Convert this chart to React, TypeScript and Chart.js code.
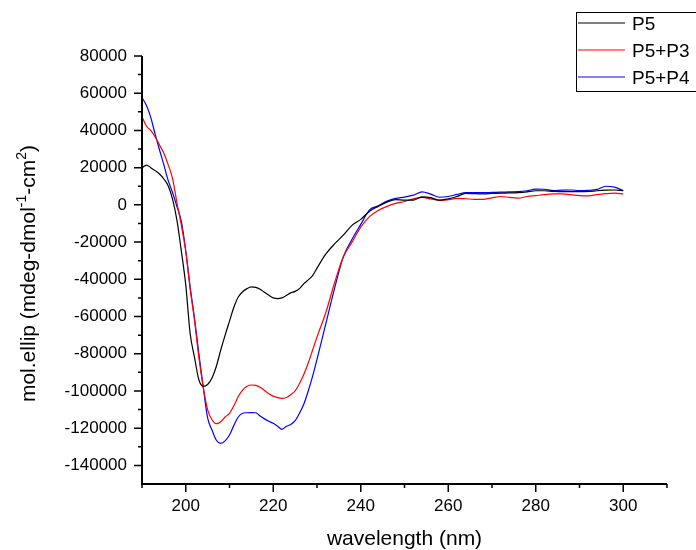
import { useEffect, useRef } from 'react';
import { Chart, registerables } from 'chart.js';
Chart.register(...registerables);

const wavelengths = [
  190, 191, 192, 193, 194, 195, 196, 197, 198, 199, 200, 201, 202, 203, 204, 205, 206, 207, 208, 209,
  210, 211, 212, 213, 214, 215, 216, 217, 218, 219, 220, 221, 222, 223, 224, 225, 226, 227, 228, 229, 230,
  232, 234, 236, 238, 240, 242, 244, 246, 248, 250, 252, 254, 256, 258, 260, 262, 264, 266, 268,
  270, 272, 274, 276, 278, 280, 282, 284, 286, 288, 290, 292, 294, 296, 298, 300,
];

const p5 = [
  19800, 21400, 20000, 18400, 16600, 13900, 10200, 3000, -8500, -25000, -43000, -69000, -82000, -94000, -97500, -96500, -93000, -86700, -78000, -70000,
  -62500, -55000, -49500, -46700, -45000, -44100, -44300, -45300, -47000, -48600, -50000, -50400, -50000, -48700, -47300, -46500, -45000, -42300, -40300, -38000, -34000,
  -26500, -21000, -16300, -11000, -7800, -3400, -800, 1500, 2800, 2600, 2600, 4300, 3900, 2500, 3300, 4500, 6200, 6000, 5900,
  6100, 6300, 6400, 6600, 7000, 7600, 7600, 7300, 7100, 7100, 7100, 7200, 7600, 7900, 8000, 7700,
];

const p5p3 = [
  47300, 42400, 40000, 36500, 32200, 27800, 21500, 14000, 1000, -11000, -25000, -45000, -62000, -82000, -98000, -110000, -115500, -117600, -116500, -114000,
  -112000, -108000, -103000, -99500, -97500, -96800, -97000, -98000, -99800, -101500, -102800, -103600, -104000, -103500, -102000, -100000, -96000, -91000, -85000, -78000, -71000,
  -58000, -42000, -28000, -20000, -12000, -6300, -3000, -800, 800, 1800, 3200, 4000, 3200, 2400, 2800, 3500, 3300, 3000, 3000,
  3800, 4500, 4000, 3600, 4500, 5000, 5500, 5900, 5900, 5500, 5000, 4800, 5500, 6000, 6300, 5900,
];

const p5p4 = [
  57700, 53500, 47000, 38000, 29500, 21500, 13000, 6500, -1000, -9000, -24500, -44000, -61000, -80000, -98000, -114500, -121000, -126500, -128200, -126800,
  -123700, -118500, -114000, -112000, -111700, -111600, -111700, -113500, -115000, -116300, -117400, -119000, -120600, -119000, -118000, -116000, -112000, -107000, -100000, -92000, -83000,
  -64000, -45000, -28000, -18500, -10500, -2700, -500, 2000, 3500, 4200, 5200, 7000, 5800, 4100, 4500, 5600, 6600, 6600, 6600,
  6700, 6800, 7000, 7100, 7600, 8500, 8400, 7700, 7900, 8000, 7700, 7800, 8300, 10000, 9500, 7700,
];

const seriesNames = ['P5', 'P5+P3', 'P5+P4'];
const seriesColors = ['#000000', '#ff0000', '#0000ff'];

const xMajorTicks = [200, 220, 240, 260, 280, 300];
const xMinorTicks = [190, 210, 230, 250, 270, 290, 310];
const yMajorTicks = [-140000, -120000, -100000, -80000, -60000, -40000, -20000, 0, 20000, 40000, 60000, 80000];
const yMinorTicks = [-130000, -110000, -90000, -70000, -50000, -30000, -10000, 10000, 30000, 50000, 70000];

const xTitle = 'wavelength (nm)';
const yTitleParts: [string, boolean][] = [
  ['mol.ellip (mdeg-dmol', false],
  ['-1', true],
  ['-cm', false],
  ['2', true],
  [')', false],
];

const FONT = "'Liberation Sans', Arial, Helvetica, sans-serif";

const decorPlugin = {
  id: 'decor',
  afterDraw(chart: any) {
    const { ctx, chartArea } = chart;
    const xs = chart.scales.x;
    const ys = chart.scales.y;
    const { left, right, top, bottom } = chartArea;
    ctx.save();
    ctx.strokeStyle = '#000';
    // axes
    ctx.lineWidth = 2;
    ctx.beginPath();
    ctx.moveTo(left, top);
    ctx.lineTo(left, bottom);
    ctx.lineTo(right, bottom);
    ctx.stroke();
    // ticks
    ctx.lineWidth = 1.5;
    ctx.beginPath();
    xMajorTicks.forEach((v) => {
      const px = xs.getPixelForValue(v);
      ctx.moveTo(px, bottom);
      ctx.lineTo(px, bottom + 8);
    });
    xMinorTicks.forEach((v) => {
      const px = xs.getPixelForValue(v);
      ctx.moveTo(px, bottom);
      ctx.lineTo(px, bottom + 4);
    });
    yMajorTicks.forEach((v) => {
      const py = ys.getPixelForValue(v);
      ctx.moveTo(left, py);
      ctx.lineTo(left - 8, py);
    });
    yMinorTicks.forEach((v) => {
      const py = ys.getPixelForValue(v);
      ctx.moveTo(left, py);
      ctx.lineTo(left - 4, py);
    });
    ctx.stroke();

    // x title
    ctx.fillStyle = '#000';
    ctx.font = `21px ${FONT}`;
    ctx.textAlign = 'center';
    ctx.textBaseline = 'alphabetic';
    ctx.fillText(xTitle, (left + right) / 2, 545);

    // y title (rotated, with superscripts)
    const normalFont = `21px ${FONT}`;
    const supFont = `14px ${FONT}`;
    let total = 0;
    yTitleParts.forEach(([t, sup]) => {
      ctx.font = sup ? supFont : normalFont;
      total += ctx.measureText(t).width;
    });
    ctx.save();
    ctx.translate(35, 273.5);
    ctx.rotate(-Math.PI / 2);
    ctx.textAlign = 'left';
    let cx = -total / 2;
    yTitleParts.forEach(([t, sup]) => {
      ctx.font = sup ? supFont : normalFont;
      ctx.fillText(t, cx, sup ? -9 : 0);
      cx += ctx.measureText(t).width;
    });
    ctx.restore();

    // legend
    ctx.lineWidth = 1;
    ctx.strokeStyle = '#000';
    ctx.strokeRect(576.5, 12.5, 140, 79);
    ctx.font = `19px ${FONT}`;
    ctx.textAlign = 'left';
    ctx.textBaseline = 'middle';
    seriesNames.forEach((name, i) => {
      const ry = 23 + i * 27;
      ctx.strokeStyle = seriesColors[i];
      ctx.lineWidth = 1.2;
      ctx.beginPath();
      ctx.moveTo(578, ry);
      ctx.lineTo(625, ry);
      ctx.stroke();
      ctx.fillStyle = '#000';
      ctx.fillText(name, 632, ry + 1.5);
    });
    ctx.restore();
  },
};

export default function App() {
  const ref = useRef<HTMLCanvasElement | null>(null);
  useEffect(() => {
    if (!ref.current) return;
    const series = [p5, p5p3, p5p4];
    const chart = new Chart(ref.current, {
      type: 'line',
      data: {
        datasets: series.map((vals, i) => ({
          label: seriesNames[i],
          data: wavelengths.map((w, j) => ({ x: w, y: vals[j] })),
          borderColor: seriesColors[i],
          backgroundColor: seriesColors[i],
          borderWidth: 1.2,
          pointRadius: 0,
          cubicInterpolationMode: 'monotone' as const,
          fill: false,
        })),
      },
      options: {
        responsive: false,
        animation: false,
        devicePixelRatio: 1,
        layout: { padding: { left: 0, right: 29, top: 56, bottom: 0 } },
        plugins: { legend: { display: false }, tooltip: { enabled: false }, title: { display: false } },
        scales: {
          x: {
            type: 'linear',
            min: 190,
            max: 310,
            afterBuildTicks: (s: any) => {
              s.ticks = xMajorTicks.map((v) => ({ value: v }));
            },
            afterFit: (s: any) => {
              s.height = 66;
            },
            grid: { display: true, drawOnChartArea: false, drawTicks: true, tickLength: 8, color: 'rgba(0,0,0,0)' },
            border: { display: false },
            ticks: {
              color: '#000',
              font: { family: FONT, size: 17 },
              padding: 4,
              maxRotation: 0,
              autoSkip: false,
              callback: (v: any) => String(v),
            },
          },
          y: {
            type: 'linear',
            min: -150000,
            max: 80000,
            afterBuildTicks: (s: any) => {
              s.ticks = yMajorTicks.map((v) => ({ value: v }));
            },
            afterFit: (s: any) => {
              s.width = 142;
            },
            grid: { display: true, drawOnChartArea: false, drawTicks: true, tickLength: 8, color: 'rgba(0,0,0,0)' },
            border: { display: false },
            ticks: {
              color: '#000',
              font: { family: FONT, size: 17 },
              padding: 7,
              autoSkip: false,
              callback: (v: any) => String(v),
            },
          },
        },
      },
      plugins: [decorPlugin],
    });
    return () => chart.destroy();
  }, []);
  return (
    <div style={{ position: 'fixed', left: 0, top: 0, width: 696, height: 550, background: '#fff' }}>
      <canvas ref={ref} width={696} height={550} style={{ width: 696, height: 550, display: 'block' }} />
    </div>
  );
}
